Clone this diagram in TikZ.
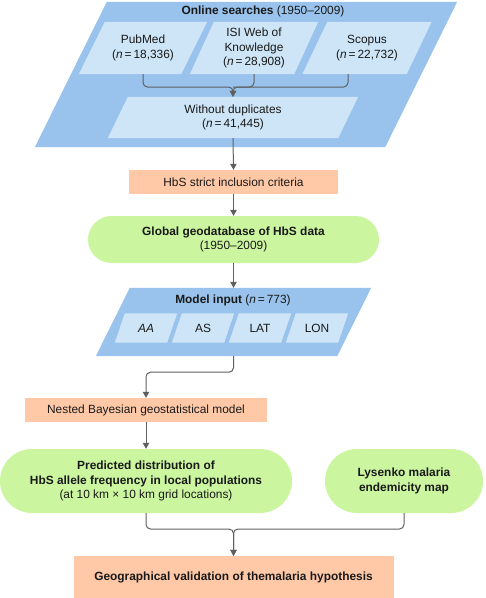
\documentclass[tikz,border=0pt]{standalone}
\usepackage{fontspec}
\setmainfont{Liberation Sans}
\usetikzlibrary{arrows.meta}
\definecolor{outerblue}{HTML}{99C3EC}
\definecolor{innerblue}{HTML}{CDE5F6}
\definecolor{greenbox}{HTML}{CCF5A0}
\definecolor{salmon}{HTML}{FFC9A8}
\definecolor{conngray}{HTML}{5F5F5F}
\pgfdeclarelayer{bg}
\pgfsetlayers{bg,main}
\newcommand\parafill[3]{\fill[#3] ([xshift=-#2]#1.south west) -- ([xshift=-#2]#1.south east) -- ([xshift=#2]#1.north east) -- ([xshift=#2]#1.north west) -- cycle;}
\tikzset{
  base/.style={inner sep=0pt, align=center, font=\fontsize{11.9}{14.8}\selectfont, text=black!90},
  para/.style={base},
  salbox/.style={base, fill=salmon},
  greenpill/.style={base, fill=greenbox},
  conn/.style={draw=conngray, line width=1pt, rounded corners=4.5pt},
  arr/.style={conn, -{Triangle[length=6pt,width=6.5pt]}},
}
\begin{document}
\begin{tikzpicture}[x=1pt, y=-1pt]
\useasboundingbox (0,0) rectangle (486,598);
% online searches
\node[para, minimum width=350pt, minimum height=145pt] (online) at (246,74.5) {};
\node[base] (ontitle) at (263,11) {\textbf{Online searches} (1950–2009)};
\node[para, minimum width=102pt, minimum height=52pt] (pub) at (143,48) {PubMed\\({\itshape n}\,=\,18,336)};
\node[para, minimum width=104pt, minimum height=52pt] (isi) at (254,48) {ISI Web of\\Knowledge\\({\itshape n}\,=\,28,908)};
\node[para, minimum width=104pt, minimum height=52pt] (scop) at (367,48) {Scopus\\({\itshape n}\,=\,22,732)};
\node[para, minimum width=230pt, minimum height=41pt] (nodup) at (233,117.5) {Without duplicates\\({\itshape n}\,=\,41,445)};
\coordinate (j1) at (233,87);
% inclusion
\node[salbox, minimum width=209pt, minimum height=24pt] (hbs) at (233.5,182) {HbS strict inclusion criteria};
\node[greenpill, minimum width=291pt, minimum height=47pt, rounded corners=23.5pt] (geo) at (233.5,239.5) {\textbf{Global geodatabase of HbS data}\\(1950–2009)};
% model input
\node[para, minimum width=241pt, minimum height=68pt] (model) at (233.5,322) {};
\node[base] (mtitle) at (233,300) {\textbf{Model input} ({\itshape n}\,=\,773)};
\node[para, minimum width=52pt, minimum height=29pt] (aa) at (146,328) {\itshape AA};
\node[para, minimum width=52pt, minimum height=29pt] (as) at (203,328) {AS};
\node[para, minimum width=52pt, minimum height=29pt] (lat) at (260,328) {LAT};
\node[para, minimum width=52pt, minimum height=29pt] (lon) at (317,328) {LON};
\node[salbox, minimum width=242pt, minimum height=24pt] (nested) at (146,410) {Nested Bayesian geostatistical model};
\node[greenpill, minimum width=292pt, minimum height=64pt, rounded corners=32pt] (pred) at (146,481) {\textbf{Predicted distribution of}\\\textbf{HbS allele frequency in local populations}\\(at 10 km × 10 km grid locations)};
\node[greenpill, minimum width=158pt, minimum height=64pt, rounded corners=32pt] (lys) at (404,481) {\textbf{Lysenko malaria}\\\textbf{endemicity map}};
\coordinate (j3) at (233.5,529);
\node[salbox, minimum width=320pt, minimum height=42pt] (final) at (233.5,577) {\textbf{Geographical validation of themalaria hypothesis}};
% fills
\begin{pgfonlayer}{bg}
\parafill{online}{36pt}{outerblue}
\parafill{pub}{13pt}{innerblue}
\parafill{isi}{12pt}{innerblue}
\parafill{scop}{12.5pt}{innerblue}
\parafill{nodup}{10pt}{innerblue}
\parafill{model}{17pt}{outerblue}
\parafill{aa}{5pt}{innerblue}
\parafill{as}{5pt}{innerblue}
\parafill{lat}{5pt}{innerblue}
\parafill{lon}{5pt}{innerblue}
\end{pgfonlayer}
% connectors
\draw[arr] (pub.south) |- (j1) -- (nodup.north);
\draw[arr] ([xshift=-19pt]scop.south) |- (j1) -- (nodup.north);
\draw[conn] (isi.south) |- (j1);
\draw[arr] (nodup.south) -- (hbs.north);
\draw[arr] (hbs.south) -- (geo.north);
\draw[arr] (geo.south) -- (model.north);
\draw[arr] (model.south) -- ++(0,16) -| (nested.north);
\draw[arr] (nested.south) -- (pred.north);
\draw[arr] (pred.south) |- (j3) -- (final.north);
\draw[arr] (lys.south) |- (j3) -- (final.north);
\end{tikzpicture}
\end{document}
